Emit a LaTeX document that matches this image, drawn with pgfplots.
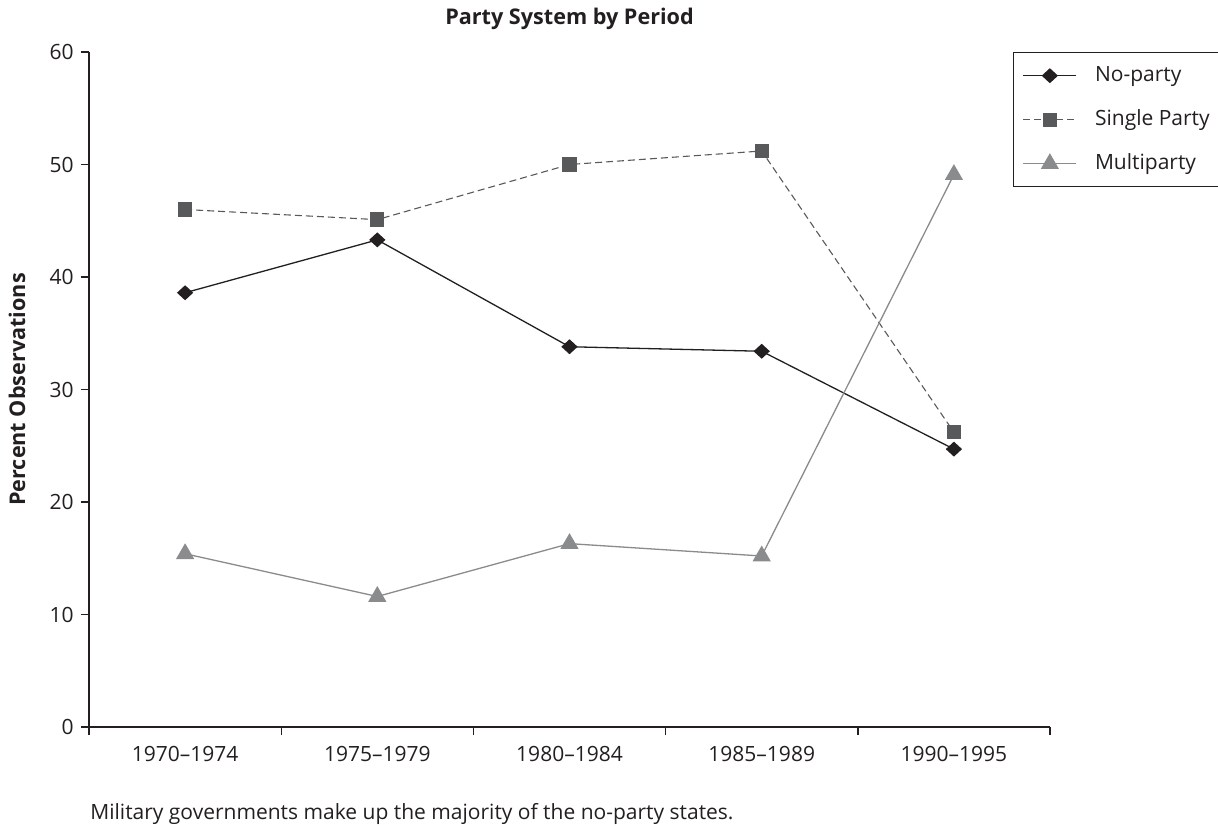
\documentclass[border=0pt]{standalone}
\usepackage{pgfplots}
\pgfplotsset{compat=1.18}
\usepackage{fontspec}
\setmainfont{Open Sans}
\definecolor{cblack}{HTML}{231F20}
\definecolor{cdark}{HTML}{58595B}
\definecolor{cgray}{HTML}{8A8B8D}
\begin{document}
\fontsize{10.5}{12.6}\selectfont
\begin{tikzpicture}
\path[use as bounding box] (-44.5pt,-49pt) rectangle (564.5pt,363.5pt);
\begin{axis}[
  at={(0,0)}, anchor=south west,
  scale only axis, width=480.5pt, height=337.5pt,
  xmin=0.5, xmax=5.5, ymin=0, ymax=60,
  axis x line*=bottom, axis y line*=left,
  axis line style={cblack, line width=0.7pt},
  xtick={1,2,3,4,5},
  xticklabels={1970--1974,1975--1979,1980--1984,1985--1989,1990--1995},
  major x tick style={draw=none},
  minor xtick={0.5,1.5,2.5,3.5,4.5,5.5},
  minor tick length=4pt,
  every minor tick/.append style={cblack, line width=0.7pt},
  ytick={0,10,...,60},
  major tick length=4pt,
  tick align=outside,
  every tick/.append style={cblack, line width=0.7pt},
  ytick style={cblack, line width=0.7pt},
  /pgf/number format/assume math mode=true,
  tick label style={font=\fontsize{10.5}{12.6}\selectfont, text=cblack},
  xticklabel style={yshift=-2pt},
  clip=false,
  legend style={at={(0.9615,1)}, anchor=north west,
    draw=cblack, line width=0.7pt, fill=white,
    font=\fontsize{10.5}{12.6}\selectfont, text=cblack,
    inner xsep=4.5pt, inner ysep=5.5pt,
    row sep=10pt, column sep=8pt,
    nodes={inner sep=1pt, text height=8pt, text depth=2pt, line width=0.6pt}},
  legend cell align=left,
  legend image code/.code={\draw[mark repeat=2,mark phase=2,#1] plot coordinates {(0pt,0pt) (13.25pt,0pt) (26.5pt,0pt)};},
]
\addplot[cblack, line width=0.65pt, mark=diamond*, mark size=3.3pt, mark options={solid, xscale=1.45, fill=cblack, draw=cblack}]
  coordinates {(1,38.6) (2,43.3) (3,33.8) (4,33.4) (5,24.7)};
\addlegendentry{No-party}
\addplot[cdark, line width=0.55pt, dash pattern=on 3.5pt off 2pt, mark=square*, mark size=3.3pt, mark options={solid, fill=cdark, draw=cdark}]
  coordinates {(1,46.0) (2,45.1) (3,50.0) (4,51.2) (5,26.2)};
\addlegendentry{Single Party}
\addplot[cgray, line width=0.65pt, mark=triangle*, mark size=4.6pt, mark options={solid, fill=cgray, draw=cgray}]
  coordinates {(1,15.4) (2,11.6) (3,16.3) (4,15.2) (5,49.1)};
\addlegendentry{Multiparty}
\end{axis}
\node[font=\bfseries\fontsize{10.8}{13}\selectfont, text=cblack] at (240.25pt,354pt) {Party System by Period};
\node[font=\bfseries\fontsize{10.8}{13}\selectfont, text=cblack, rotate=90] at (-36pt,168.75pt) {Percent Observations};
\node[anchor=base west, inner sep=0pt, text=cblack] at (0.5pt,-46.3pt) {Military governments make up the majority of the no-party states.};
\end{tikzpicture}
\end{document}
